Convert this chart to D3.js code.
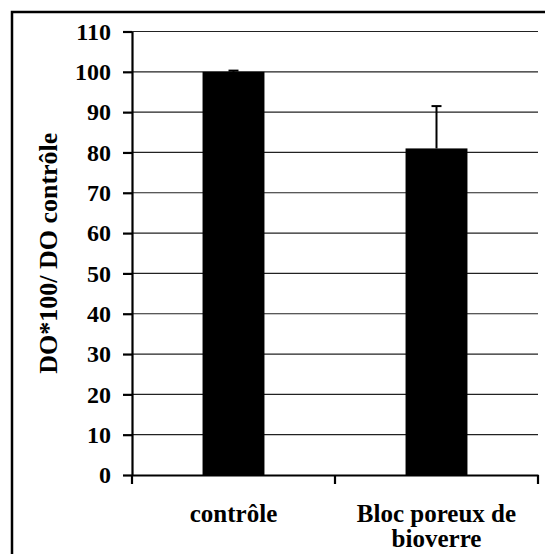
<!DOCTYPE html>
<html><head><meta charset="utf-8">
<script src="https://cdn.jsdelivr.net/npm/d3@7"></script>
<style>body{margin:0;background:#fff}svg{display:block}</style>
</head><body>
<script>
const categories = ["contrôle", "Bloc poreux de bioverre"];
const values = [100, 81];
const errors = [0.3, 10.5];
const yTicks = [0,10,20,30,40,50,60,70,80,90,100,110];
const yTitle = "DO*100/ DO contrôle";

const W = 545, H = 554;
const svg = d3.select("body").append("svg").attr("width", W).attr("height", H);
const font = "'Liberation Serif','Times New Roman',Times,serif";

svg.append("rect").attr("x",12).attr("y",12).attr("width",600).attr("height",600)
  .attr("fill","#fff").attr("stroke","#000").attr("stroke-width",2.5);

const x0 = 132, x1 = 538, yTop = 31.5, yBot = 475;
const x = d3.scaleBand().domain(categories).range([x0,x1]).paddingInner(0.695).paddingOuter(0.3475);
const xb = d3.scaleBand().domain(categories).range([x0,x1]);
const y = d3.scaleLinear().domain([0,110]).range([yBot,yTop]);

// gridlines
svg.append("g").selectAll("line").data(yTicks.filter(d=>d>0)).join("line")
  .attr("x1",x0).attr("x2",x1).attr("y1",d=>y(d)).attr("y2",d=>y(d))
  .attr("stroke","#222").attr("stroke-width",1.2);

// bars
svg.append("g").selectAll("rect").data(categories).join("rect")
  .attr("x",d=>x(d)).attr("width",x.bandwidth())
  .attr("y",(d,i)=>y(values[i])).attr("height",(d,i)=>yBot-y(values[i]))
  .attr("fill","#000");

// error bars
const eg = svg.append("g").attr("stroke","#000").attr("stroke-width",2);
categories.forEach((c,i)=>{
  const cx = x(c)+x.bandwidth()/2;
  eg.append("line").attr("x1",cx).attr("x2",cx).attr("y1",y(values[i])).attr("y2",y(values[i]+errors[i]));
  eg.append("line").attr("x1",cx-5).attr("x2",cx+5).attr("y1",y(values[i]+errors[i])).attr("y2",y(values[i]+errors[i]));
});

// y axis
const ya = svg.append("g").attr("transform",`translate(${x0},0)`)
  .call(d3.axisLeft(y).tickValues(yTicks).tickSize(9).tickPadding(12).tickSizeOuter(0));
ya.select(".domain").attr("stroke","#000").attr("stroke-width",2.2);
ya.selectAll(".tick line").attr("stroke","#000").attr("stroke-width",2.2);
ya.selectAll(".tick text").attr("font-family",font).attr("font-weight","bold").attr("font-size",24).attr("fill","#000");

// x axis
const xa = svg.append("g").attr("transform",`translate(0,${yBot})`)
  .call(d3.axisBottom(xb).tickSize(0).tickFormat(""));
xa.select(".domain").attr("stroke","#000").attr("stroke-width",2.2);
const xtickPos = [x0, x0+xb.step(), x1];
svg.append("g").selectAll("line").data(xtickPos).join("line")
  .attr("x1",d=>d).attr("x2",d=>d).attr("y1",yBot).attr("y2",yBot+9)
  .attr("stroke","#000").attr("stroke-width",2.2);

// category labels
const lines = [["contrôle"],["Bloc poreux de","bioverre"]];
categories.forEach((c,i)=>{
  const t = svg.append("text").attr("x",xb(c)+xb.bandwidth()/2).attr("y",522)
    .attr("text-anchor","middle").attr("font-family",font).attr("font-weight","bold").attr("font-size",25);
  lines[i].forEach((l,j)=>t.append("tspan").attr("x",xb(c)+xb.bandwidth()/2).attr("dy",j?25:0).text(l));
});

// y title
svg.append("text").attr("transform",`translate(57,${(yTop+yBot)/2}) rotate(-90)`)
  .attr("text-anchor","middle").attr("font-family",font).attr("font-weight","bold").attr("font-size",26)
  .text(yTitle);
</script>
</body></html>
